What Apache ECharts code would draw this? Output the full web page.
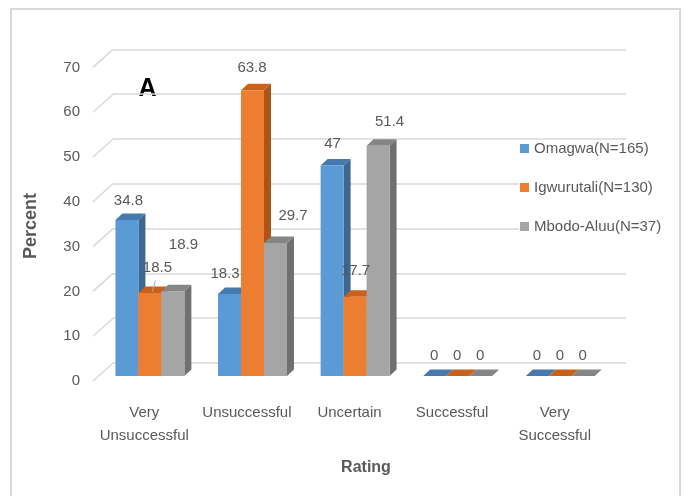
<!DOCTYPE html>
<html>
<head>
<meta charset="utf-8">
<script src="https://cdn.jsdelivr.net/npm/echarts@6.0.0/dist/echarts.min.js"></script>
<style>
  html, body { margin: 0; padding: 0; background: #fff; }
  #chart { width: 684px; height: 496px; }
</style>
</head>
<body>
<div id="chart"></div>
<script>
// ---- data ----
const categories = ['Very\nUnsuccessful', 'Unsuccessful', 'Uncertain', 'Successful', 'Very\nSuccessful'];
const seriesNames = ['Omagwa(N=165)', 'Igwurutali(N=130)', 'Mbodo-Aluu(N=37)'];
const omagwa = [34.8, 18.3, 47, 0, 0];
const igwurutali = [18.5, 63.8, 17.7, 0, 0];
const mbodoAluu = [18.9, 29.7, 51.4, 0, 0];
const yTicks = [0, 10, 20, 30, 40, 50, 60, 70];

// ---- styling ----
const FONT = '"Liberation Sans", Arial, sans-serif';
const TEXT = '#595959';
const GRID = '#d9d9d9';
// pseudo-3D projection, in pixels
const WALL_TO_FRONT = [-20, 18];   // back wall -> front edge of floor (axis labels)
const WALL_TO_BARS = [-14.4, 13];  // back wall -> front face of the bars
const BAR_DEPTH = [7, -6.5];       // depth of each column
const FACES = [
  { front: '#5b9bd5', top: '#4679ad', side: '#3b6792' },
  { front: '#ed7d31', top: '#c8611c', side: '#ad5418' },
  { front: '#a5a5a5', top: '#858585', side: '#707070' }
];
// hand-placed data labels: pixel nudges from the default spot above each column
const LABEL_NUDGE = [
  [[-2, 0], [-8, -1], [-3, -2], [-4, -1], [-4, -1]],
  [[4, -6], [-4, -3], [-3, -6], [-4, -1], [-4, -1]],
  [[7, -27], [14, -8], [8, -4], [-4, -1], [-4, -1]]
];
const LEADER = { '1-0': true };

const values = [omagwa, igwurutali, mbodoAluu];

function columnRenderer(s) {
  return function (params, api) {
    const cat = api.value(0);
    const val = api.value(1);
    const base = api.coord([cat, 0]);
    const top = api.coord([cat, val]);
    const band = api.size([1, 0])[0];
    const bw = band * 0.224;
    const cx = base[0] + WALL_TO_BARS[0];
    const x0 = cx - 1.5 * bw + s * bw;
    const x1 = x0 + bw;
    const yb = base[1] + WALL_TO_BARS[1];
    const yt = top[1] + WALL_TO_BARS[1];
    const dx = BAR_DEPTH[0], dy = BAR_DEPTH[1];
    const f = FACES[s];
    const nudge = LABEL_NUDGE[s][cat];
    const lx = x0 + bw / 2 + dx / 2 + nudge[0];
    const ly = yt + dy - 13 + nudge[1];
    const children = [
      { type: 'polygon', shape: { points: [[x1, yb], [x1, yt], [x1 + dx, yt + dy], [x1 + dx, yb + dy]] },
        style: { fill: f.side } },
      { type: 'polygon', shape: { points: [[x0, yt], [x1, yt], [x1 + dx, yt + dy], [x0 + dx, yt + dy]] },
        style: { fill: f.top } },
      { type: 'rect', shape: { x: x0, y: yt, width: bw, height: yb - yt },
        style: { fill: f.front } },
      { type: 'text', z2: 100,
        style: { text: String(val), x: lx, y: ly, align: 'center', verticalAlign: 'middle',
                 fill: TEXT, font: '15px ' + FONT } }
    ];
    if (LEADER[s + '-' + cat]) {
      children.push({ type: 'line', z2: 100,
        shape: { x1: x0 + bw * 0.6, y1: yt - 1, x2: lx - 2, y2: ly + 13 },
        style: { stroke: '#a6a6a6', lineWidth: 1 } });
    }
    return { type: 'group', children: children };
  };
}

const chart = echarts.init(document.getElementById('chart'), null, { renderer: 'canvas' });

const series = [
  {
    // receding floor lines from the axis labels to the back wall
    type: 'custom',
    silent: true,
    xAxisIndex: 0, yAxisIndex: 0,
    data: yTicks.map(v => [0, v]),
    renderItem: function (params, api) {
      const p = api.coord([0, api.value(1)]);
      const x = params.coordSys.x;
      return { type: 'line',
        shape: { x1: x, y1: p[1], x2: x + WALL_TO_FRONT[0], y2: p[1] + WALL_TO_FRONT[1] },
        style: { stroke: GRID, lineWidth: 1.5 } };
    }
  }
];
values.forEach((arr, s) => {
  series.push({
    type: 'custom',
    name: seriesNames[s],
    xAxisIndex: 0, yAxisIndex: 0,
    itemStyle: { color: FACES[s].front },
    encode: { x: 0, y: 1 },
    data: arr.map((v, i) => [i, v]),
    renderItem: columnRenderer(s)
  });
});

chart.setOption({
  backgroundColor: '#fff',
  animation: false,
  grid: [
    { left: 113, right: 58, top: 49.4, bottom: 133 },  // back wall
    { left: 93, right: 78, top: 67.4, bottom: 115 }    // front edge, carries the labels
  ],
  xAxis: [
    { type: 'category', gridIndex: 0, data: categories,
      axisLine: { show: false }, axisTick: { show: false }, axisLabel: { show: false } },
    { type: 'category', gridIndex: 1, data: categories,
      axisLine: { show: false }, axisTick: { show: false },
      axisLabel: { color: TEXT, fontFamily: FONT, fontSize: 15, lineHeight: 23, margin: 20, interval: 0 } }
  ],
  yAxis: [
    { type: 'value', gridIndex: 0, min: 0, max: 70, interval: 10,
      axisLine: { show: false }, axisTick: { show: false }, axisLabel: { show: false },
      splitLine: { lineStyle: { color: GRID, width: 1.5 } } },
    { type: 'value', gridIndex: 1, min: 0, max: 70, interval: 10,
      axisLine: { show: false }, axisTick: { show: false }, splitLine: { show: false },
      axisLabel: { color: TEXT, fontFamily: FONT, fontSize: 15, margin: 13 } }
  ],
  legend: {
    data: seriesNames,
    orient: 'vertical',
    left: 519, top: 140,
    icon: 'rect', itemWidth: 9, itemHeight: 9, itemGap: 22,
    padding: [0, 4, 0, 1],
    backgroundColor: '#fff',
    textStyle: { color: TEXT, fontFamily: FONT, fontSize: 15, lineHeight: 17 }
  },
  graphic: [
    { type: 'rect', silent: true, shape: { x: 11, y: 9, width: 669, height: 500 },
      style: { fill: 'none', stroke: '#d9d9d9', lineWidth: 2 } },
    { type: 'text', x: 147.5, y: 89.5,
      style: { text: 'A', fill: '#000', font: 'bold 25px ' + FONT, align: 'center', verticalAlign: 'middle' } },
    { type: 'text', x: 366, y: 468,
      style: { text: 'Rating', fill: TEXT, font: 'bold 16px ' + FONT, align: 'center', verticalAlign: 'middle' } },
    { type: 'text', x: 31, y: 226, rotation: Math.PI / 2,
      style: { text: 'Percent', fill: TEXT, font: 'bold 18px ' + FONT, align: 'center', verticalAlign: 'middle' } }
  ],
  series: series
});
</script>
</body>
</html>
